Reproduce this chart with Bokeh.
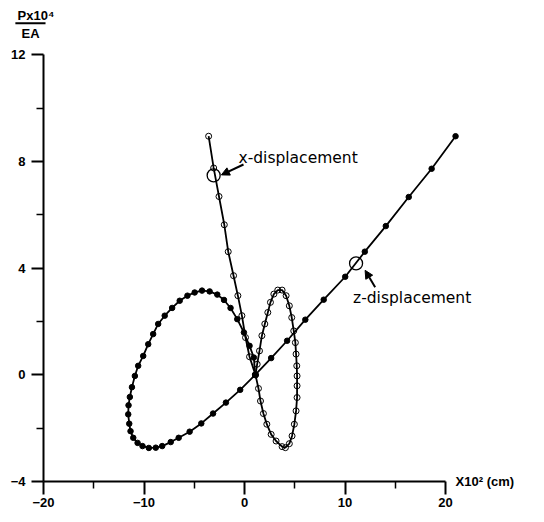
from bokeh.plotting import figure
from bokeh.models import Range1d, FixedTicker, Label, Arrow, NormalHead, LinearAxis
from bokeh.embed import file_html
from bokeh.resources import INLINE

# ---------------- data (displacement x10^2 cm, load Px10^4/EA) ----------------
z_disp = [1.06, 0.93, 0.50, -0.06, -0.72, -1.39, -2.04, -2.71, -3.47, -4.23,
          -4.96, -5.68, -6.45, -7.20, -7.94, -8.59, -9.09, -9.58, -10.08, -10.58,
          -10.91, -11.20, -11.41, -11.54, -11.57, -11.47, -11.34, -11.07, -10.64, -10.15,
          -9.52, -8.83, -8.19, -7.34, -6.55, -5.46, -4.30, -3.13, -1.85, -0.43,
          1.06, 2.65, 4.24, 6.05, 7.88, 10.02, 11.97, 14.06, 16.34, 18.62, 21.00]
z_load = [0.00, 0.65, 1.09, 1.59, 2.09, 2.51, 2.81, 3.01, 3.13, 3.16,
          3.09, 2.97, 2.78, 2.51, 2.22, 1.91, 1.53, 1.15, 0.71, 0.34,
          -0.04, -0.46, -0.83, -1.14, -1.48, -1.83, -2.11, -2.36, -2.55, -2.67,
          -2.74, -2.73, -2.67, -2.52, -2.36, -2.13, -1.82, -1.45, -1.04, -0.56,
          0.00, 0.63, 1.28, 2.07, 2.82, 3.68, 4.62, 5.58, 6.67, 7.73, 8.95]

x_disp = [1.09, 1.26, 1.49, 1.73, 2.02, 2.32, 2.58, 2.92, 3.31, 3.74,
          4.14, 4.46, 4.70, 4.90, 5.06, 5.13, 5.20, 5.23, 5.23, 5.23,
          5.13, 4.96, 4.73, 4.46, 4.07, 3.74, 3.14, 2.65, 2.22, 1.88,
          1.59, 1.39, 1.09, 0.50, 0.10, -0.26, -0.66, -1.09, -1.62, -2.01,
          -2.54, -3.07, -3.57]
x_load = [0.00, 0.40, 0.90, 1.47, 1.91, 2.34, 2.72, 3.03, 3.18, 3.18,
          2.97, 2.59, 2.15, 1.65, 1.21, 0.78, 0.34, -0.04, -0.41, -0.85,
          -1.35, -1.85, -2.29, -2.58, -2.73, -2.69, -2.48, -2.23, -1.85, -1.45,
          -0.98, -0.51, 0.00, 0.68, 1.40, 2.22, 2.97, 3.72, 4.62, 5.63,
          6.69, 7.76, 8.95]

x_ticks = [-20, -10, 0, 10, 20]
x_minor_ticks = [-15, -5, 5, 15]
y_ticks = [-4, 0, 4, 8, 12]
y_minor_ticks = [-2, 2, 6, 10]

x_axis_title = "X10\u00b2 (cm)"
y_title_num = "Px10\u2074"
y_title_den = "EA"

label_names = ["x-displacement", "z-displacement"]
mark_disp = [-3.07, 11.10]      # highlighted points
mark_load = [7.48, 4.18]

# ---------------- figure ----------------
p = figure(width=544, height=522, output_backend="svg", toolbar_location=None,
           title=None, x_axis_location=None, y_axis_location=None,
           x_range=Range1d(-24.28, 29.85), y_range=Range1d(-5.536, 14.04),
           min_border_left=0, min_border_right=0, min_border_top=0,
           min_border_bottom=0)
p.outline_line_color = None
p.grid.visible = False
p.background_fill_color = "white"
p.border_fill_color = "white"

xax = LinearAxis(fixed_location=-4,
                 ticker=FixedTicker(ticks=x_ticks, minor_ticks=x_minor_ticks))
xax.bounds = (-20, 20)
xax.major_tick_out = 13
xax.major_tick_in = 0
xax.minor_tick_out = 7
xax.minor_tick_in = 0
xax.major_label_standoff = 3

yax = LinearAxis(fixed_location=-20,
                 ticker=FixedTicker(ticks=y_ticks, minor_ticks=y_minor_ticks))
yax.bounds = (-4, 12)
yax.major_tick_out = 12
yax.major_tick_in = 0
yax.minor_tick_out = 7
yax.minor_tick_in = 0
yax.major_label_standoff = 6

for ax in (xax, yax):
    ax.axis_line_width = 2
    ax.axis_line_color = "black"
    ax.major_tick_line_width = 2
    ax.minor_tick_line_width = 1.5
    ax.major_tick_line_color = "black"
    ax.minor_tick_line_color = "black"
    ax.major_label_text_font = "Liberation Sans"
    ax.major_label_text_font_style = "bold"
    ax.major_label_text_font_size = "13px"
    ax.major_label_text_color = "black"
p.add_layout(xax, "below")
p.add_layout(yax, "left")

# curves
p.line(z_disp, z_load, line_color="black", line_width=1.8)
p.scatter(z_disp, z_load, size=5.5, fill_color="black", line_color="black")
p.line(x_disp, x_load, line_color="black", line_width=1.8)
p.scatter(x_disp, x_load, size=6, fill_color=None, line_color="black", line_width=1)

# highlighted circles
p.scatter(mark_disp, mark_load, size=13, fill_color=None, line_color="black", line_width=1.3)

# annotation labels and arrows
p.add_layout(Label(x=-0.6, y=8.15, text=label_names[0], text_align="left",
                   text_baseline="middle", text_font="DejaVu Sans",
                   text_font_size="15.5px", text_color="black"))
p.add_layout(Label(x=10.8, y=2.87, text=label_names[1], text_align="left",
                   text_baseline="middle", text_font="DejaVu Sans",
                   text_font_size="15.5px", text_color="black"))
p.add_layout(Arrow(x_start=-0.1, y_start=7.89, x_end=-2.3, y_end=7.5,
                   line_width=2, line_color="black",
                   end=NormalHead(size=8, fill_color="black", line_color="black")))
p.add_layout(Arrow(x_start=13.0, y_start=3.29, x_end=12.0, y_end=3.92,
                   line_width=2, line_color="black",
                   end=NormalHead(size=8, fill_color="black", line_color="black")))

# axis titles
p.add_layout(Label(x=21.0, y=-4.0, text=x_axis_title, text_align="left",
                   text_baseline="middle", text_font="Liberation Sans",
                   text_font_style="bold", text_font_size="13px", text_color="black"))
p.add_layout(Label(x=-20.75, y=13.48, text=y_title_num, text_align="center",
                   text_baseline="middle", text_font="Liberation Sans",
                   text_font_style="bold", text_font_size="13px", text_color="black"))
p.add_layout(Arrow(x_start=-22.8, y_start=13.19, x_end=-19.8, y_end=13.19,
                   line_width=2, line_color="black", start=None, end=None))
p.add_layout(Label(x=-21.29, y=12.81, text=y_title_den, text_align="center",
                   text_baseline="middle", text_font="Liberation Sans",
                   text_font_style="bold", text_font_size="13px", text_color="black"))

open("out.html", "w").write(file_html(p, INLINE))
